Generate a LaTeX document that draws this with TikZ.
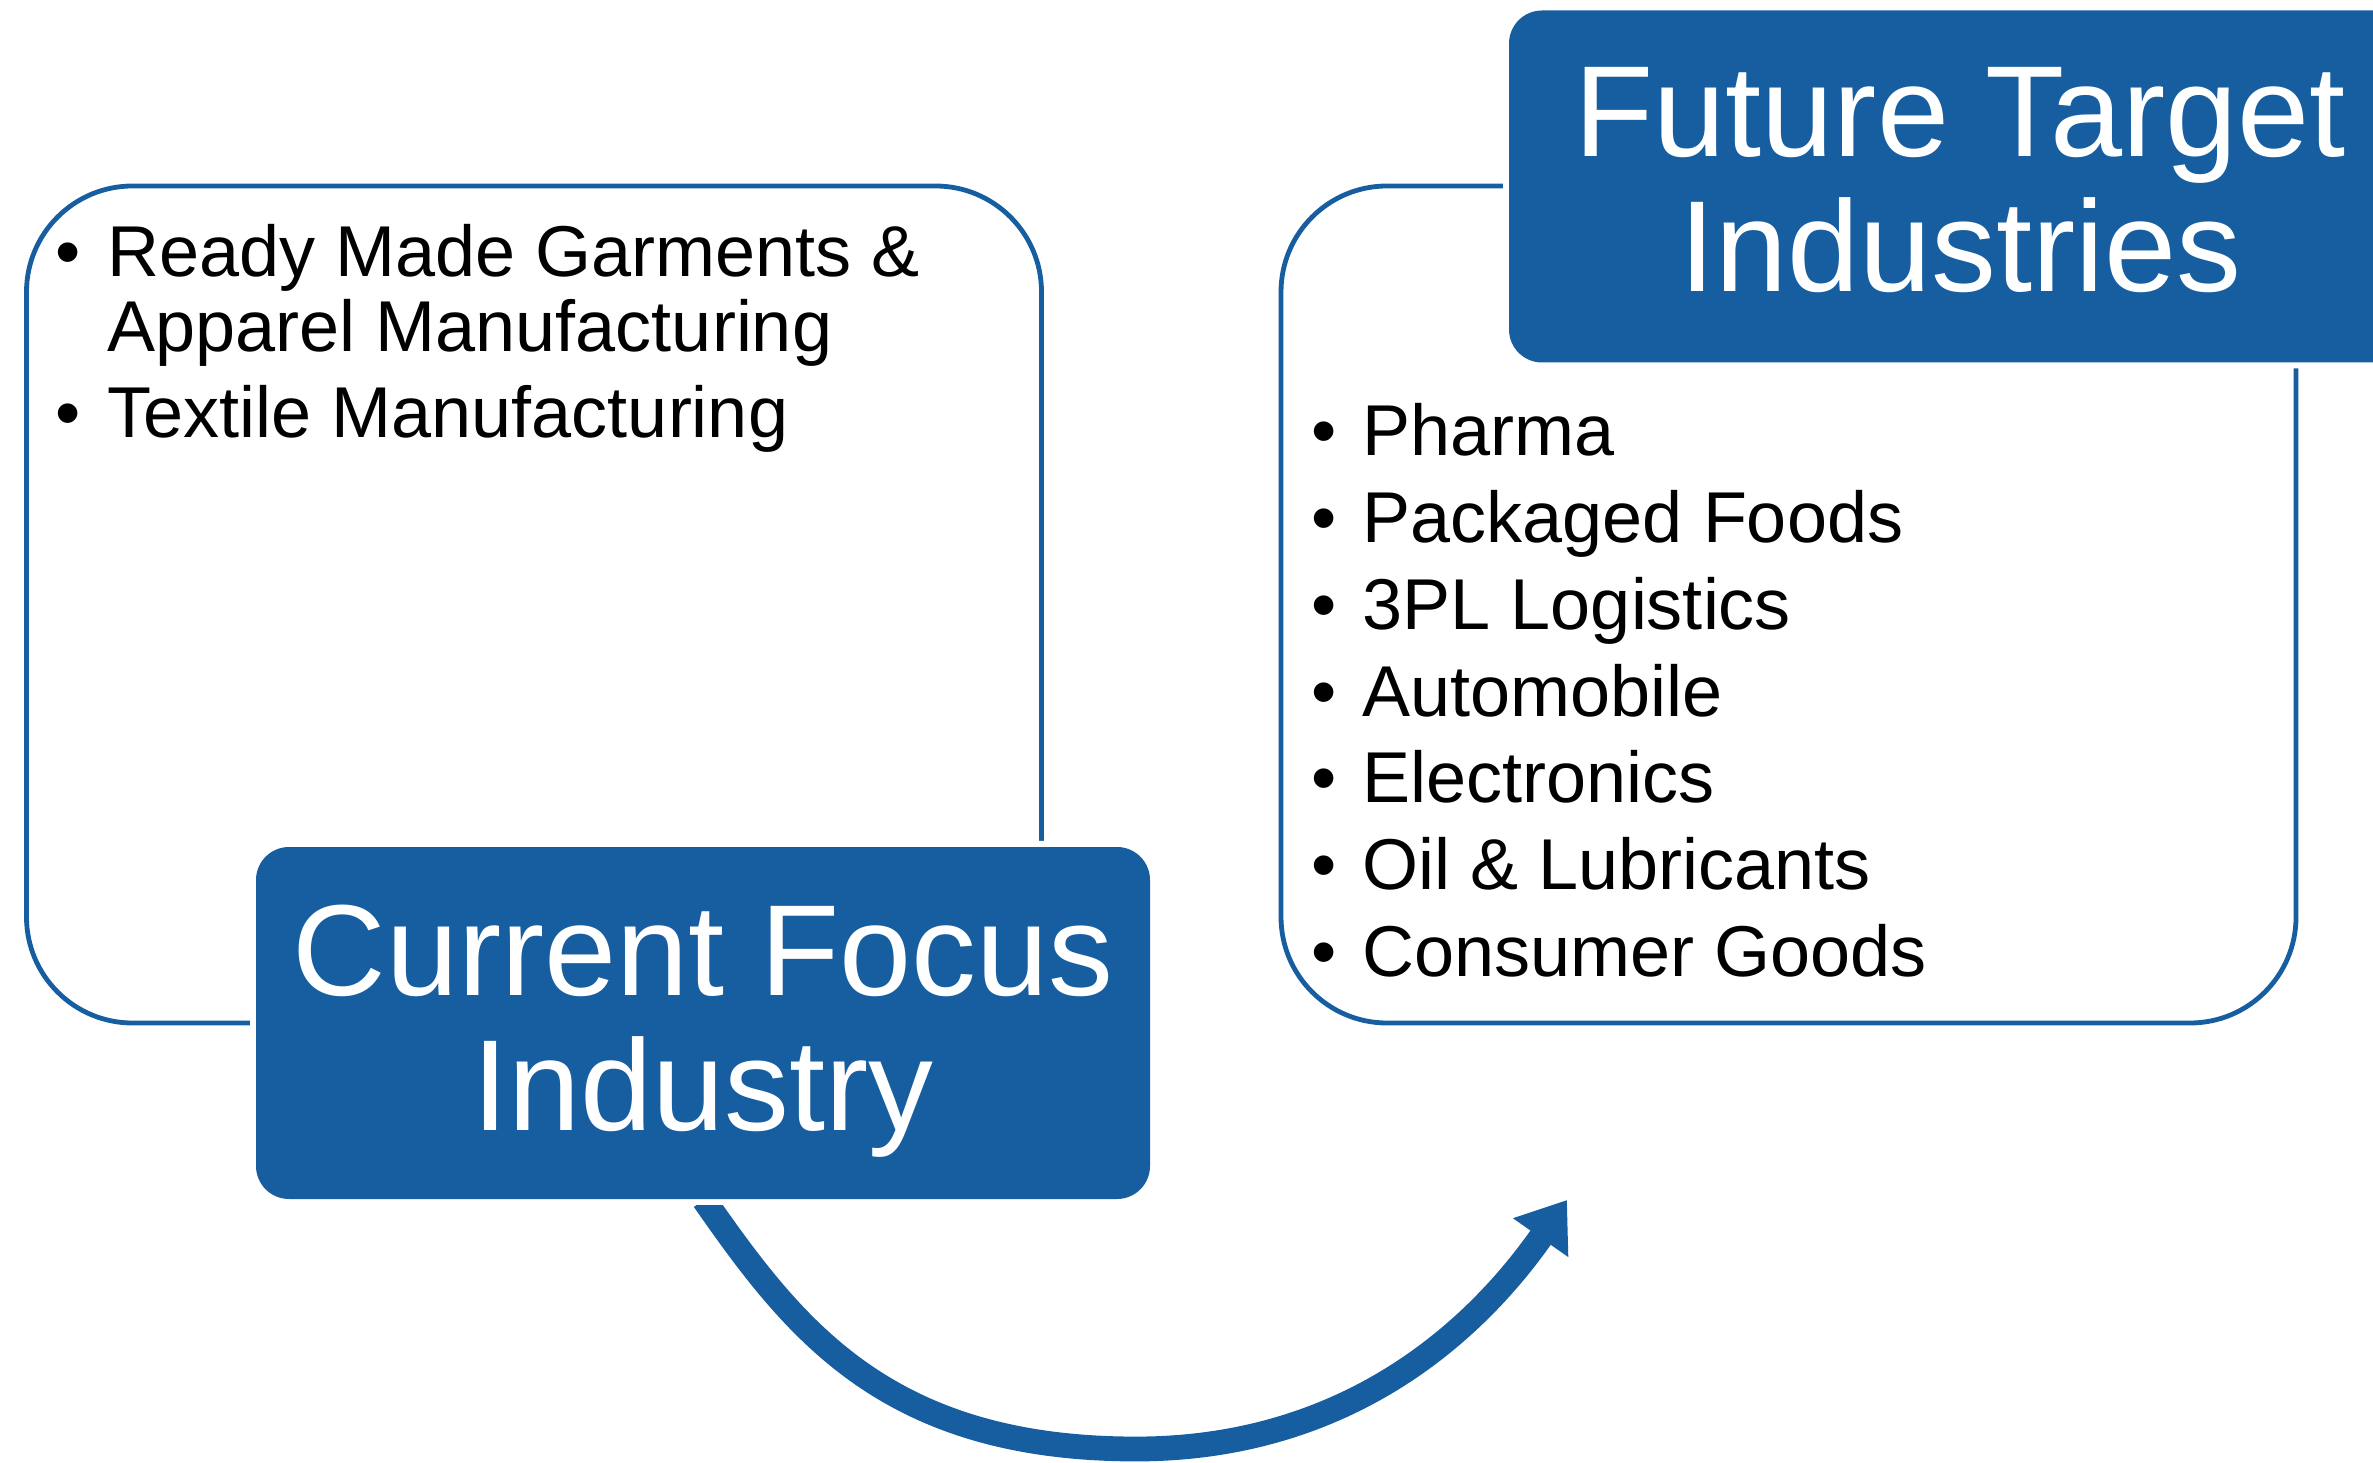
\documentclass[tikz,border=0pt]{standalone}
\usepackage{fontspec}
\setmainfont{Liberation Sans}
\usetikzlibrary{arrows.meta}
\definecolor{sblue}{RGB}{22,94,160}
\begin{document}
\begin{tikzpicture}[x=0.25pt,y=-0.25pt,
  listbox/.style={draw=sblue, line width=1.2pt, rounded corners=26.5pt, minimum width=253.75pt, minimum height=209.25pt, inner sep=0pt},
  titlebox/.style={fill=sblue, preaction={draw=white, line width=3pt}, rounded corners=8.25pt, minimum width=223.5pt, minimum height=88pt, inner sep=0pt},
  titletext/.style={text=white, font=\fontsize{32.4pt}{33.75pt}\selectfont, align=center, inner sep=0pt},
  listtext/.style={text=black, align=left, inner sep=0pt, anchor=north west},
  flow/.style={draw=sblue, line width=6.2pt, -{Triangle[width=16.1pt,length=11.5pt]}}
]
\useasboundingbox (0,0) rectangle (2373,1463);
\node[listbox] (leftbox) at (534,604.5) {};
\node[listbox] (rightbox) at (1788.5,604.5) {};
\node[titlebox] (cur) at (703,1023) {};
\node[titlebox, minimum width=225.5pt] (fut) at (1960,186.5) {};
\node[titletext] (curtext) at (703,1031.5) {Current Focus\\Industry};
\node[titletext] (futtext) at (1960,180) {Future Target\\Industries};
\node[listtext, font=\fontsize{18pt}{18.75pt}\selectfont] (leftlist) at (55,224)
  {\makebox[13pt][l]{•}Ready Made Garments \&\\\makebox[13pt]{}Apparel Manufacturing\\[2.75pt]\makebox[13pt][l]{•}Textile Manufacturing};
\node[listtext, font=\fontsize{18pt}{21.67pt}\selectfont] (rightlist) at (1311,403)
  {\makebox[12.75pt][l]{•}Pharma\\\makebox[12.75pt][l]{•}Packaged Foods\\\makebox[12.75pt][l]{•}3PL Logistics\\\makebox[12.75pt][l]{•}Automobile\\\makebox[12.75pt][l]{•}Electronics\\\makebox[12.75pt][l]{•}Oil \& Lubricants\\\makebox[12.75pt][l]{•}Consumer Goods};
\coordinate (low) at (1136,1449);
\coordinate (tip) at (1567,1200);
\begin{scope}
\clip (0,1205) rectangle (1000,1463) (1000,0) rectangle (2373,1463);
\draw[flow] ([shift={(1,0)}]cur.south) .. controls +(90,129) and +(-250,0) .. (low) .. controls +(200,0) and +(-100.5,143.3) .. (tip);
\end{scope}
\end{tikzpicture}
\end{document}
